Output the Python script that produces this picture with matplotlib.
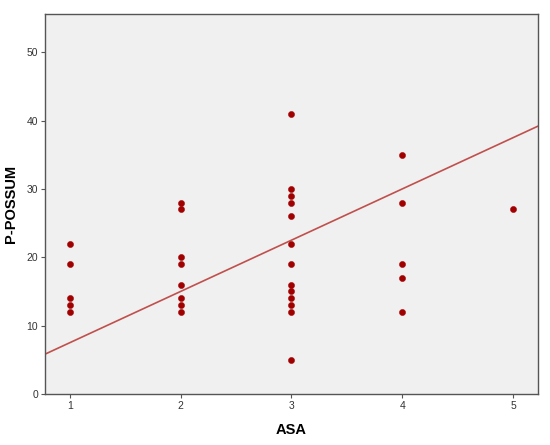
"""ASA 与 P-POSSUM 散点图（带拟合线）"""

import matplotlib
matplotlib.use('Agg')
import matplotlib.pyplot as plt

plt.rcParams['font.family'] = ['Liberation Sans', 'DejaVu Sans']

# 数据
asa = [1, 1, 1, 1, 1,
       2, 2, 2, 2, 2, 2, 2, 2,
       3, 3, 3, 3, 3, 3, 3, 3, 3, 3, 3, 3, 3,
       4, 4, 4, 4, 4,
       5]
possum = [22, 19, 14, 13, 12,
          28, 27, 20, 19, 16, 14, 13, 12,
          41, 30, 29, 28, 26, 22, 19, 16, 15, 14, 13, 12, 5,
          35, 28, 19, 17, 12,
          27]
line_intercept = 0.0
line_slope = 7.5
x_ticks = [1, 2, 3, 4, 5]
y_ticks = [0, 10, 20, 30, 40, 50]

fig = plt.figure(figsize=(5.5, 4.45), dpi=100)
ax = fig.add_axes([0.0818, 0.1146, 0.8964, 0.8539])
ax.set_facecolor('#f0f0f0')

xlim = (0.777, 5.226)
ax.plot(xlim, [line_intercept + line_slope * x for x in xlim],
        color='#c0504d', linewidth=1.2, zorder=2)
ax.scatter(asa, possum, s=20, color='#a00000', edgecolors='#a00000',
           linewidths=0.3, zorder=3)

ax.set_xlim(*xlim)
ax.set_ylim(0, 55.6)
ax.set_xticks(x_ticks)
ax.set_yticks(y_ticks)

for side in ['left', 'bottom', 'right', 'top']:
    ax.spines[side].set_color('#555555')
    ax.spines[side].set_linewidth(1.0)
ax.tick_params(axis='both', labelsize=7.5, length=3, width=0.8,
               color='#555555', labelcolor='#333333', pad=2)

ax.set_xlabel('ASA', fontsize=10.5, fontweight='bold', labelpad=9)
ax.set_ylabel('P-POSSUM', fontsize=10.5, fontweight='bold', labelpad=6)

plt.savefig('out.png', dpi=100)
